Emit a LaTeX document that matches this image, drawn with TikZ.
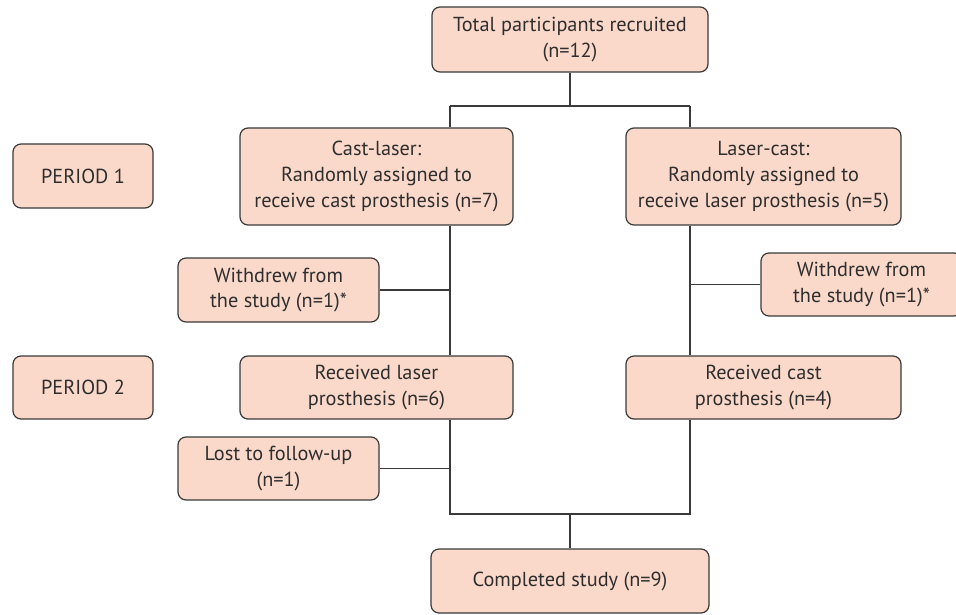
\documentclass[tikz,border=0pt]{standalone}
\usepackage{fontspec}
\setmainfont{PT Sans}
\definecolor{boxfill}{HTML}{FBD9CA}
\definecolor{boxline}{HTML}{3A3A3A}
\definecolor{txt}{HTML}{2E2E2E}
\begin{document}
\begin{tikzpicture}[x=1pt,y=-1pt,
  box/.style={draw=boxline, fill=boxfill, rounded corners=8pt, line width=1.2pt,
    align=center, inner sep=0pt, text=txt,
    font=\fontsize{20.3pt}{25.7pt}\selectfont},
  conn/.style={draw=boxline, line width=1.3pt}]
\clip (0,0) rectangle (956,614);
\fill[white] (0,0) rectangle (956,614);
\node[box, minimum width=276pt, minimum height=65pt] (top) at (570,39.5) {Total participants recruited\\(n=12)};
\node[box, minimum width=273pt, minimum height=97pt] (cast) at (376.5,176.5) {Cast-laser:\\Randomly assigned to\\receive cast prosthesis (n=7)};
\node[box, minimum width=275pt, minimum height=97pt] (laser) at (763.5,176.5) {Laser-cast:\\Randomly assigned to\\receive laser prosthesis (n=5)};
\node[box, minimum width=140pt, minimum height=64pt] (p1) at (83,176) {PERIOD 1};
\node[box, minimum width=201pt, minimum height=64pt] (wdL) at (278.5,290) {Withdrew from\\the study (n=1)*};
\node[box, minimum width=201pt, minimum height=63pt] (wdR) at (861.5,284.5) {Withdrew from\\the study (n=1)*};
\node[box, minimum width=140pt, minimum height=63pt] (p2) at (83,387.5) {PERIOD 2};
\node[box, minimum width=273pt, minimum height=63pt] (recL) at (376.5,387.5) {Received laser\\prosthesis (n=6)};
\node[box, minimum width=275pt, minimum height=63pt] (recR) at (763.5,387.5) {Received cast\\prosthesis (n=4)};
\node[box, minimum width=201pt, minimum height=63pt] (lost) at (278.5,468.5) {Lost to follow-up\\(n=1)};
\node[box, minimum width=278pt, minimum height=64pt] (comp) at (570,581) {Completed study (n=9)};
\coordinate (colL) at (450,0);
\coordinate (colR) at (690,0);
\coordinate (split) at (570,106);
\coordinate (merge) at (570,514);
\draw[conn] (top.south) -- (split);
\draw[conn] (split -| colL) -- (split -| colR);
\draw[conn] (split -| colL) -- (cast.north -| colL);
\draw[conn] (split -| colR) -- (laser.north -| colR);
\draw[conn] (cast.south -| colL) -- (recL.north -| colL);
\draw[conn] (laser.south -| colR) -- (recR.north -| colR);
\draw[conn] (wdL.east) -- (wdL.east -| colL);
\draw[conn] (wdR.west) -- (wdR.west -| colR);
\draw[conn] (recL.south -| colL) -- (merge -| colL) -- (merge -| colR) -- (recR.south -| colR);
\draw[conn] (lost.east) -- (lost.east -| colL);
\draw[conn] (merge) -- (comp.north);
\end{tikzpicture}
\end{document}
